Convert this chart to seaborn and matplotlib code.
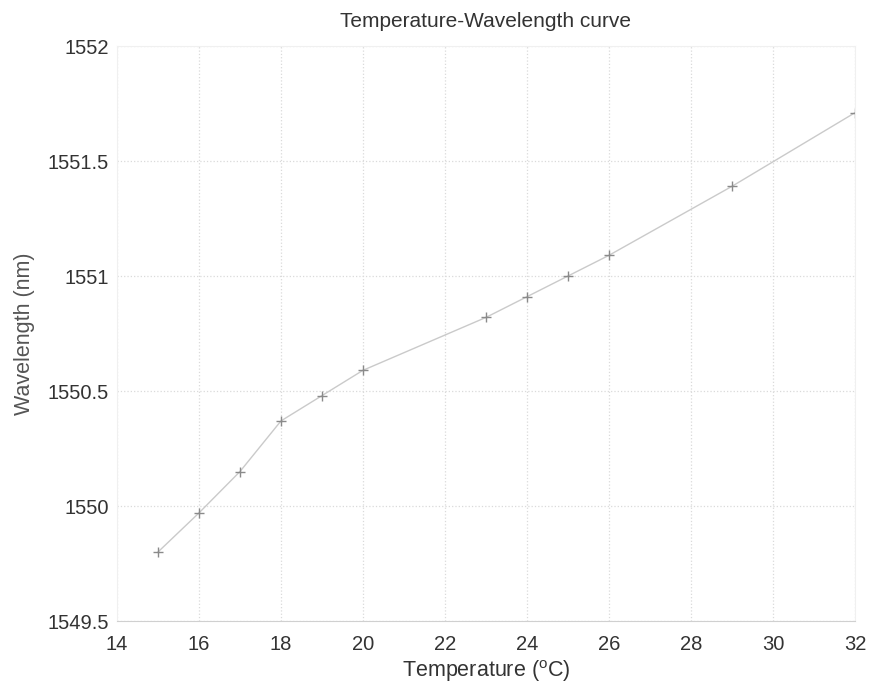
import numpy as np
import pandas as pd
import matplotlib
matplotlib.use("Agg")
import matplotlib.pyplot as plt
import seaborn as sns

# values
temperature = [15, 16, 17, 18, 19, 20, 23, 24, 25, 26, 29, 32]
wavelength = [1549.80, 1549.97, 1550.15, 1550.37, 1550.48, 1550.59,
              1550.82, 1550.91, 1551.00, 1551.09, 1551.39, 1551.71]
x_ticks = [14, 16, 18, 20, 22, 24, 26, 28, 30, 32]
y_ticks = [1549.5, 1550, 1550.5, 1551, 1551.5, 1552]
y_labels = ["1549.5", "1550", "1550.5", "1551", "1551.5", "1552"]

df = pd.DataFrame({"Temperature": temperature, "Wavelength": wavelength})

sns.set_style("white")
plt.rcParams['font.family'] = ['Liberation Sans', 'DejaVu Sans']

fig = plt.figure(figsize=(8.72, 6.92), dpi=100)
ax = fig.add_axes([117 / 872, 1 - 621 / 692, (855 - 117) / 872, (621 - 46) / 692])

sns.lineplot(data=df, x="Temperature", y="Wavelength", ax=ax, color="#cacaca",
             linewidth=1.0, marker="+", markersize=7, markeredgecolor="#8a8a8a",
             markeredgewidth=1.0)

ax.set_xlim(14, 32)
ax.set_ylim(1549.5, 1552)
ax.set_xticks(x_ticks)
ax.set_yticks(y_ticks)
ax.set_yticklabels(y_labels)
ax.grid(True, linestyle=":", color="#dadada", linewidth=0.9)
ax.set_axisbelow(True)

for side in ["top", "right", "left"]:
    ax.spines[side].set_color("#f0f0f0")
ax.spines["bottom"].set_color("#d0d0d0")
ax.tick_params(axis="both", length=0, labelsize=14.5, labelcolor="#333333")
ax.tick_params(axis="x", pad=10)
ax.tick_params(axis="y", pad=6)

ax.set_xlabel("Temperature $\\mathregular{(^{o}C)}$", fontsize=15.5, color="#333333", labelpad=3)
ax.set_ylabel("Wavelength (nm)", fontsize=15.5, color="#555555", labelpad=9)
ax.set_title("Temperature-Wavelength curve", fontsize=15, color="#333333", pad=14)

fig.savefig("out.png", dpi=100, facecolor="white")
